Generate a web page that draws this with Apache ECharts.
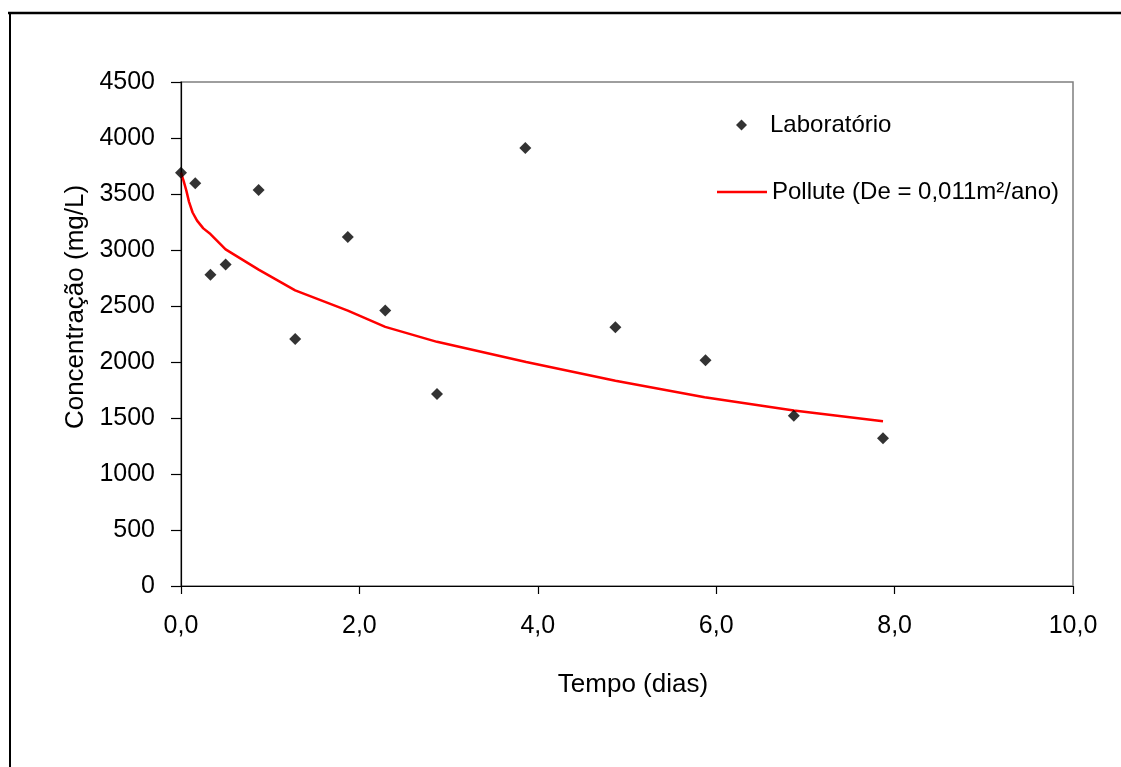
<!DOCTYPE html>
<html>
<head>
<meta charset="utf-8">
<script src="https://cdn.jsdelivr.net/npm/echarts@6/dist/echarts.min.js"></script>
<style>
html,body{margin:0;padding:0;background:#fff;}
#chart{width:1121px;height:767px;}
</style>
</head>
<body>
<div id="chart"></div>
<script>
// Laboratory measurements
var labTime = [0, 0.16, 0.33, 0.5, 0.87, 1.28, 1.87, 2.29, 2.87, 3.86, 4.87, 5.88, 6.87, 7.87];
var labConc = [3690, 3595, 2780, 2870, 3535, 2205, 3115, 2460, 1715, 3910, 2310, 2015, 1520, 1320];
// Pollute model curve
var polluteTime = [0, 0.03, 0.06, 0.09, 0.13, 0.18, 0.25, 0.33, 0.5, 0.87, 1.28, 1.87, 2.29, 2.87, 3.87, 4.87, 5.87, 6.87, 7.87];
var polluteConc = [3690, 3615, 3530, 3430, 3335, 3262, 3193, 3142, 3005, 2825, 2640, 2458, 2314, 2180, 2000, 1833, 1685, 1567, 1472];
// Axis ticks
var xTicks = [0, 2, 4, 6, 8, 10];
var yTicks = [0, 500, 1000, 1500, 2000, 2500, 3000, 3500, 4000, 4500];

var labName = 'Laboratório';
var polluteName = 'Pollute (De = 0,011m²/ano)';
var xName = 'Tempo (dias)';
var yName = 'Concentração (mg/L)';

function zip(a, b) { return a.map(function (v, i) { return [v, b[i]]; }); }

var FONT = 'Liberation Sans, Arial, sans-serif';
var chart = echarts.init(document.getElementById('chart'), null, {renderer: 'canvas'});
chart.setOption({
  backgroundColor: '#ffffff',
  animation: false,
  graphic: [
    {type: 'line', shape: {x1: 8, y1: 13, x2: 1121, y2: 13}, style: {stroke: '#000', lineWidth: 2.5}},
    {type: 'line', shape: {x1: 10, y1: 13, x2: 10, y2: 767}, style: {stroke: '#000', lineWidth: 2}},
    {type: 'text', x: 76, y: 307, rotation: Math.PI / 2,
     style: {text: yName, font: '26px ' + FONT, fill: '#000', align: 'center', verticalAlign: 'middle'}}
  ],
  grid: {left: 181, top: 82, width: 892, height: 504, show: true, borderColor: '#7f7f7f', borderWidth: 1.5, backgroundColor: 'transparent'},
  legend: [
    {data: [{name: labName, icon: 'diamond'}], orient: 'vertical', left: 731, top: 108, itemWidth: 11, itemHeight: 11, itemGap: 0,
     textStyle: {fontFamily: FONT, fontSize: 24, color: '#000', padding: [0, 0, 0, 18]}},
    {data: [{name: polluteName, icon: 'rect'}], orient: 'vertical', left: 712, top: 175, itemWidth: 50, itemHeight: 2.5, itemGap: 0,
     itemStyle: {color: '#ff0000'},
     textStyle: {fontFamily: FONT, fontSize: 24, color: '#000'}}
  ],
  xAxis: {
    type: 'value', min: xTicks[0], max: xTicks[xTicks.length - 1], interval: 2,
    name: xName, nameLocation: 'middle', nameGap: 86,
    nameTextStyle: {fontFamily: FONT, fontSize: 26, color: '#000', padding: [0, 0, 0, 12]},
    axisLine: {show: true, onZero: false, lineStyle: {color: '#000', width: 1.2}},
    axisTick: {show: true, inside: false, length: 8, lineStyle: {color: '#000', width: 1.2}},
    axisLabel: {margin: 28, fontFamily: FONT, fontSize: 25, color: '#000',
      formatter: function (v) { return v.toFixed(1).replace('.', ','); }},
    splitLine: {show: false}
  },
  yAxis: {
    type: 'value', min: yTicks[0], max: yTicks[yTicks.length - 1], interval: 500,
    axisLine: {show: true, onZero: false, lineStyle: {color: '#000', width: 1.2}},
    axisTick: {show: true, inside: false, length: 10, lineStyle: {color: '#000', width: 1.2}},
    axisLabel: {margin: 26, fontFamily: FONT, fontSize: 25, color: '#000',
      formatter: function (v) { return String(v); }},
    splitLine: {show: false}
  },
  series: [
    {
      name: labName, type: 'scatter', data: zip(labTime, labConc),
      symbol: 'diamond', symbolSize: 12, itemStyle: {color: '#000'}, z: 3
    },
    {
      name: polluteName, type: 'line', data: zip(polluteTime, polluteConc),
      symbol: 'none', showSymbol: false, smooth: false,
      lineStyle: {color: '#ff0000', width: 2.5}, itemStyle: {color: '#ff0000'}, z: 2
    }
  ]
});
</script>
</body>
</html>
